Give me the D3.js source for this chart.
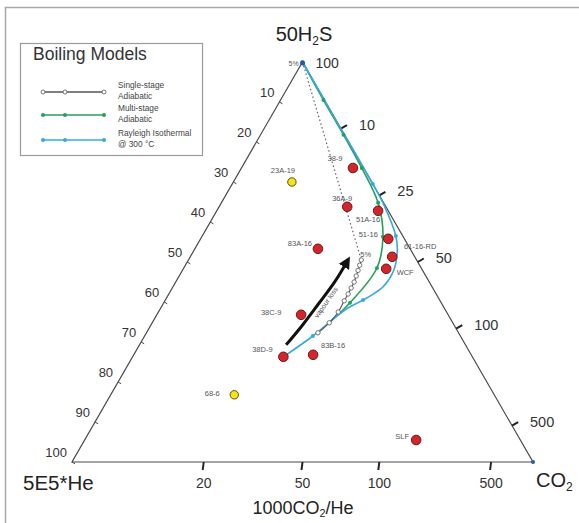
<!DOCTYPE html>
<html>
<head>
<meta charset="utf-8">
<script src="https://cdn.jsdelivr.net/npm/d3@7"></script>
<style>
    body { margin: 0; background: #fff; }
    svg text { font-family: "Liberation Sans", Arial, Helvetica, sans-serif; }
</style>
</head>
<body>
<svg id="chart" width="579" height="523"></svg>
<script>
// every composition below is [50H2S, CO2, 5E5*He] in % (top, right, left corner)
var sample_names = ['38-9', '23A-19', '36A-9', '51A-16', '51-16', '83A-16', '61-16-RD', 'WCF', '38C-9', '38D-9', '83B-16', '68-6', 'SLF']
var sample_values = [
    [73.5, 24.2, 2.3], [70.0, 12.7, 17.3], [63.8, 27.8, 8.4], [62.8, 35.0, 2.2],
    [55.8, 40.7, 3.5], [53.3, 26.7, 20.0], [51.3, 43.8, 4.9], [48.3, 44.0, 7.7],
    [36.8, 31.3, 31.9], [26.3, 32.7, 41.0], [26.8, 38.9, 34.3], [16.8, 26.8, 56.4],
    [5.5, 71.9, 22.6]
]
var sample_group = ['red', 'yellow', 'red', 'red', 'red', 'red', 'red', 'red', 'red', 'red', 'red', 'yellow', 'red']

// boiling models
var single_stage = [
    [50.5, 37.5, 12.0], [49.2, 37.8, 13.0], [47.9, 38.1, 14.0], [46.5, 38.4, 15.1],
    [45.0, 38.7, 16.3], [43.5, 38.8, 17.7], [42.0, 38.9, 19.1], [40.3, 38.9, 20.8],
    [37.5, 39.0, 23.5], [34.8, 38.4, 26.8], [32.3, 37.2, 30.5]
]
var multi_stage = [
    [100, 0, 0], [90.5, 9.3, 0.2], [81.8, 18.0, 0.2], [73.5, 26.1, 0.4], [64.8, 34.0, 1.2],
    [56.3, 39.3, 4.4], [48.5, 41.9, 9.6], [39.8, 40.4, 19.8], [35.0, 38.5, 26.5]
]
var multi_stage_marks = [1, 2, 3, 4, 5, 6, 7]
var rayleigh = [
    [100, 0, 0], [85.8, 14.2, 0], [69.5, 30.5, 0], [64.3, 35.5, 0.2], [56.5, 42.0, 1.5],
    [52.5, 44.3, 3.2], [47.5, 45.9, 6.6], [43.8, 45.6, 10.6], [42.3, 44.6, 13.1],
    [40.5, 42.9, 16.6], [38.8, 40.9, 20.3], [36.5, 39.2, 24.3], [31.5, 36.5, 32.0],
    [26.3, 32.7, 41.0]
]
var rayleigh_marks = [0, 2, 4, 9, 12]
var vapour_arrow = [[29.3, 31.8, 38.9], [34.3, 33.0, 32.7], [39.8, 33.7, 26.5], [45.0, 34.6, 20.4], [49.3, 34.6, 16.1]]

// tick labels
var left_ticks = [10, 20, 30, 40, 50, 60, 70, 80, 90, 100]
var right_ticks = [10, 25, 50, 100, 500]
var bottom_ticks = [20, 50, 100, 500]

// label placement for the samples (dx, dy from the point)
var label_offset = {
    '38-9': [-18, -7], '23A-19': [-9, -9], '36A-9': [-5, -6], '51A-16': [-10, 11],
    '51-16': [-20, -2], '83A-16': [-18, -3], '61-16-RD': [28, -8], 'WCF': [19, 6],
    '38C-9': [-30, 0], '38D-9': [-21, -5], '83B-16': [20, -7], '68-6': [-22, 1], 'SLF': [-14, -1]
}

var svg = d3.select('#chart')
var xScale = d3.scaleLinear().domain([0, 1]).range([72, 533])
var yScale = d3.scaleLinear().domain([0, 1]).range([462, 62])

function project(d) {
    var s = d[0] + d[1] + d[2]
    var a = d[0] / s, b = d[1] / s
    return [xScale(b + a / 2), yScale(a)]
}

var top_c = project([1, 0, 0]), right_c = project([0, 1, 0]), left_c = project([0, 0, 1])

// outer frame
svg.append('rect').attr('x', 5.5).attr('y', 7.5).attr('width', 600).attr('height', 600)
    .attr('fill', 'none').attr('stroke', '#a8a8a8').attr('stroke-width', 1.5)

// triangle
svg.append('path')
    .attr('d', 'M' + top_c + 'L' + right_c + 'L' + left_c + 'Z')
    .attr('fill', 'none').attr('stroke', '#4a4a4a').attr('stroke-width', 1.2)

// left edge ticks (linear)
left_ticks.forEach(v => {
    var p = project([100 - v, 0, v])
    svg.append('line').attr('x1', p[0]).attr('y1', p[1])
        .attr('x2', p[0] + 3.5 * 0.866).attr('y2', p[1] + 3.5 * 0.5)
        .attr('stroke', '#444').attr('stroke-width', 1)
    svg.append('text').attr('x', p[0] - 5).attr('y', p[1] - 5)
        .attr('text-anchor', 'end').attr('font-size', 13).attr('fill', '#333').text(v)
})

// right edge ticks, CO2/H2S
right_ticks.forEach(v => {
    var p = project([50, v, 0])
    svg.append('line').attr('x1', p[0]).attr('y1', p[1])
        .attr('x2', p[0] + 7 * 0.866).attr('y2', p[1] - 7 * 0.5)
        .attr('stroke', '#222').attr('stroke-width', 2)
    svg.append('text').attr('x', p[0] + 18).attr('y', p[1] + 1)
        .attr('font-size', 14.5).attr('fill', '#333').text(v)
})

// bottom ticks, 1000CO2/He
bottom_ticks.forEach(v => {
    var p = project([0, v, 50])
    svg.append('line').attr('x1', p[0]).attr('y1', p[1])
        .attr('x2', p[0] - 1).attr('y2', p[1] + 8)
        .attr('stroke', '#222').attr('stroke-width', 2)
    svg.append('text').attr('x', p[0]).attr('y', 488)
        .attr('text-anchor', 'middle').attr('font-size', 14).attr('fill', '#333').text(v)
})

svg.append('text').attr('x', top_c[0] + 13).attr('y', top_c[1] + 6)
    .attr('font-size', 14).attr('fill', '#333').text('100')
svg.append('text').attr('x', top_c[0] - 14).attr('y', top_c[1] + 4)
    .attr('font-size', 7).attr('fill', '#555').text('5%')

// corner titles
function sub_text(x, y, size, anchor, before, sub, after) {
    var t = svg.append('text').attr('x', x).attr('y', y).attr('text-anchor', anchor)
        .attr('font-size', size).attr('fill', '#222')
    t.append('tspan').text(before)
    t.append('tspan').attr('font-size', size * 0.6).attr('dy', size * 0.18).text(sub)
    t.append('tspan').attr('dy', -size * 0.18).text(after)
}
sub_text(304, 41, 20, 'middle', '50H', '2', 'S')
sub_text(536, 487, 20, 'start', 'CO', '2', '')
sub_text(303, 514, 18, 'middle', '1000CO', '2', '/He')
svg.append('text').attr('x', 23).attr('y', 490).attr('font-size', 20.5).attr('fill', '#222').text('5E5*He')

// boiling model curves
var line = d3.line().x(d => project(d)[0]).y(d => project(d)[1]).curve(d3.curveCatmullRom)

svg.append('line')
    .attr('x1', top_c[0]).attr('y1', top_c[1])
    .attr('x2', project(single_stage[0])[0]).attr('y2', project(single_stage[0])[1])
    .attr('stroke', '#666').attr('stroke-width', 1.2).attr('stroke-dasharray', '1.5,2.5')

svg.append('path').attr('d', line(multi_stage)).attr('fill', 'none')
    .attr('stroke', '#25a05a').attr('stroke-width', 1.6)
svg.append('path').attr('d', line(rayleigh)).attr('fill', 'none')
    .attr('stroke', '#3aa8dc').attr('stroke-width', 1.6)
svg.append('path').attr('d', line(single_stage)).attr('fill', 'none')
    .attr('stroke', '#555').attr('stroke-width', 1.1)

multi_stage_marks.forEach(i => {
    var p = project(multi_stage[i])
    svg.append('circle').attr('cx', p[0]).attr('cy', p[1]).attr('r', 2).attr('fill', '#25a05a')
})
rayleigh_marks.forEach(i => {
    var p = project(rayleigh[i])
    svg.append('circle').attr('cx', p[0]).attr('cy', p[1]).attr('r', 2).attr('fill', '#3aa8dc')
})
svg.append('circle').attr('cx', right_c[0]).attr('cy', right_c[1]).attr('r', 2).attr('fill', '#2a5aa0')
svg.append('circle').attr('cx', top_c[0]).attr('cy', top_c[1] + 1).attr('r', 2.5).attr('fill', '#2a5aa0')

single_stage.forEach(d => {
    var p = project(d)
    svg.append('circle').attr('cx', p[0]).attr('cy', p[1]).attr('r', 2.2)
        .attr('fill', '#fff').attr('stroke', '#555').attr('stroke-width', 0.8)
})
var s0 = project(single_stage[0])
svg.append('text').attr('x', s0[0] - 1).attr('y', s0[1] - 3)
    .attr('font-size', 7.5).attr('fill', '#555').text('5%')

// vapour loss arrow
svg.append('defs').append('marker').attr('id', 'arrowhead')
    .attr('viewBox', '0 0 10 10').attr('refX', 2).attr('refY', 5)
    .attr('markerWidth', 4).attr('markerHeight', 4).attr('orient', 'auto')
    .append('path').attr('d', 'M0,0L10,5L0,10Z').attr('fill', '#111')
svg.append('path').attr('d', d3.line().x(d => project(d)[0]).y(d => project(d)[1]).curve(d3.curveBasis)(vapour_arrow))
    .attr('fill', 'none').attr('stroke', '#111').attr('stroke-width', 3)
    .attr('marker-end', 'url(#arrowhead)')
var am = project(vapour_arrow[2])
svg.append('text').attr('transform', 'translate(' + (am[0] + 9) + ',' + (am[1] + 1) + ') rotate(-55)')
    .attr('text-anchor', 'middle').attr('font-size', 7).attr('fill', '#555').text('vapour loss')

// samples
sample_values.forEach((d, i) => {
    var p = project(d)
    var name = sample_names[i]
    var red = sample_group[i] == 'red'
    svg.append('circle').attr('cx', p[0]).attr('cy', p[1]).attr('r', red ? 4.8 : 4.2)
        .attr('fill', red ? '#d2262c' : '#f3e51c')
        .attr('stroke', red ? '#6e1515' : '#5c5200').attr('stroke-width', 1)
    var off = label_offset[name]
    svg.append('text').attr('x', p[0] + off[0]).attr('y', p[1] + off[1])
        .attr('text-anchor', 'middle').attr('font-size', 7.5).attr('fill', '#555').text(name)
})

// legend
var lg = svg.append('g')
lg.append('rect').attr('x', 20.5).attr('y', 43.5).attr('width', 182).attr('height', 112)
    .attr('fill', '#fff').attr('stroke', '#9a9a9a').attr('stroke-width', 1.2)
lg.append('text').attr('x', 33).attr('y', 60).attr('font-size', 17.5).attr('fill', '#333').text('Boiling Models')

var legend_items = [
    { y: 92, color: '#555', open: true, lines: ['Single-stage', 'Adiabatic'] },
    { y: 115, color: '#25a05a', open: false, lines: ['Multi-stage', 'Adiabatic'] },
    { y: 140, color: '#3aa8dc', open: false, lines: ['Rayleigh Isothermal', '@ 300 \u00B0C'] }
]
legend_items.forEach(it => {
    lg.append('line').attr('x1', 43).attr('x2', 104).attr('y1', it.y).attr('y2', it.y)
        .attr('stroke', it.color).attr('stroke-width', 1.5)
    ;[43, 65, 104].forEach(x => {
        lg.append('circle').attr('cx', x).attr('cy', it.y).attr('r', 2)
            .attr('fill', it.open ? '#fff' : it.color)
            .attr('stroke', it.open ? '#555' : 'none').attr('stroke-width', 0.8)
    })
    lg.append('text').attr('x', 118).attr('y', it.y - 4).attr('font-size', 8.3).attr('fill', '#444').text(it.lines[0])
    lg.append('text').attr('x', 118).attr('y', it.y + 7).attr('font-size', 8.3).attr('fill', '#444').text(it.lines[1])
})
</script>
</body>
</html>
